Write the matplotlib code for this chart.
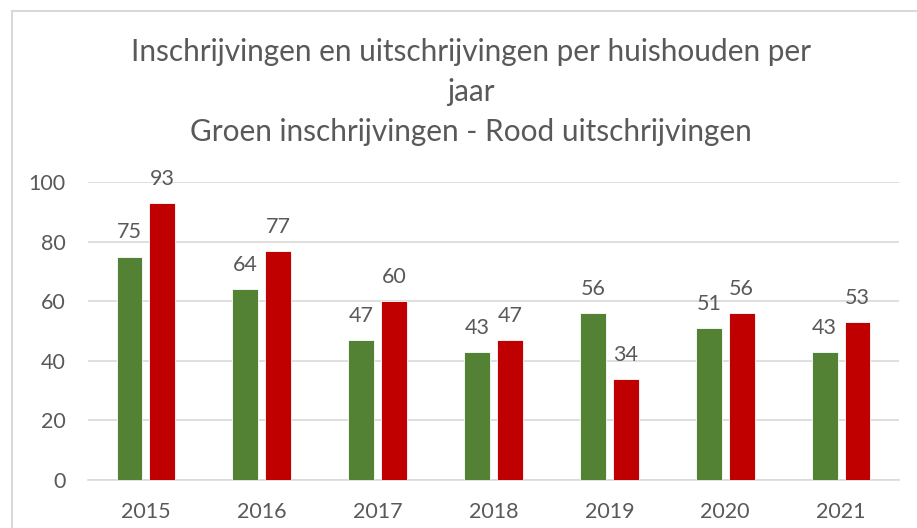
import numpy as np
import matplotlib
matplotlib.use("Agg")
import matplotlib.pyplot as plt
from matplotlib.patches import Rectangle

# data
years = ["2015", "2016", "2017", "2018", "2019", "2020", "2021"]
inschrijvingen = [75, 64, 47, 43, 56, 51, 43]
uitschrijvingen = [93, 77, 60, 47, 34, 56, 53]

title = ("Inschrijvingen en uitschrijvingen per huishouden per\njaar\n"
         "Groen inschrijvingen - Rood uitschrijvingen")

GREEN = "#548235"
RED = "#C00000"
TEXT = "#595959"
GRID = "#D9D9D9"

plt.rcParams['font.family'] = ['Lato', 'DejaVu Sans']

fig = plt.figure(figsize=(9.17, 5.28), dpi=100)
ax = fig.add_axes([88 / 917, 48 / 528, (899 - 88) / 917, (480 - 182) / 528])

x = np.arange(len(years))
w = 0.224
off = 0.142
b1 = ax.bar(x - off, inschrijvingen, w, color=GREEN, edgecolor="white", linewidth=0.6, zorder=3)
b2 = ax.bar(x + off, uitschrijvingen, w, color=RED, edgecolor="white", linewidth=0.6, zorder=3)

for bars, vals in ((b1, inschrijvingen), (b2, uitschrijvingen)):
    for rect, v in zip(bars, vals):
        ax.annotate(str(v), (rect.get_x() + rect.get_width() / 2, v),
                    xytext=(0, 24), textcoords="offset pixels",
                    ha="center", va="center", fontsize=15.5, color=TEXT)

ax.set_xlim(-0.5, len(years) - 0.5)
ax.set_ylim(0, 100)
ax.set_yticks(range(0, 101, 20))
ax.set_xticks(x)
ax.set_xticklabels(years)
ax.tick_params(axis="both", length=0, labelsize=15.5, colors=TEXT)
ax.tick_params(axis="y", pad=16)
ax.tick_params(axis="x", pad=16)
ax.grid(axis="y", color=GRID, linewidth=1.2, zorder=0)
for s in ("top", "right", "left"):
    ax.spines[s].set_visible(False)
ax.spines["bottom"].set_color(GRID)
ax.spines["bottom"].set_linewidth(1.2)

fig.text(471 / 917, 1 - 92 / 528, title, ha="center", va="center", fontsize=21.4,
         color=TEXT, linespacing=1.53, transform=fig.transFigure)

# chart frame, runs off the right and bottom edges
fig.patches.append(Rectangle((12 / 917, -0.1), 1.2, 1 - 11 / 528 + 0.1,
                             transform=fig.transFigure, fill=False,
                             edgecolor=GRID, linewidth=1.5))

fig.savefig("out.png", dpi=100)
